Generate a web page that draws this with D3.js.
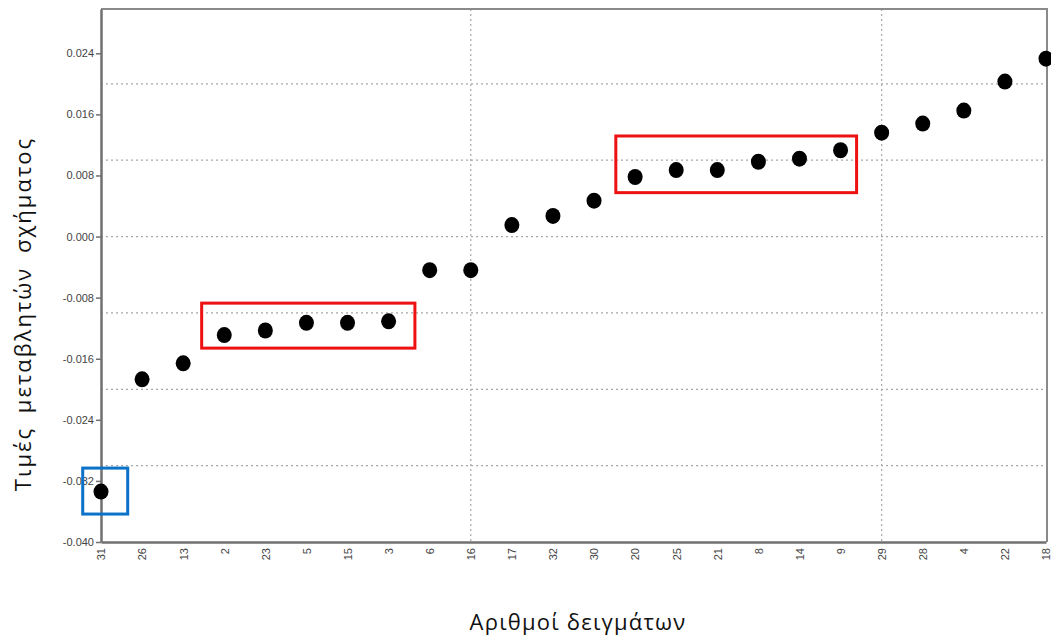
<!DOCTYPE html>
<html>
<head>
<meta charset="utf-8">
<script src="https://cdn.jsdelivr.net/npm/d3@7"></script>
<style>
    body { margin: 0; background: #fff; }
    svg { display: block; }
</style>
</head>
<body>
<svg id="chart" width="1051" height="637"></svg>
<script>
// Sample numbers, in the order they are plotted
let samples = ["31", "26", "13", "2", "23", "5", "15", "3", "6", "16", "17", "32",
               "30", "20", "25", "21", "8", "14", "9", "29", "28", "4", "22", "18"];
// Shape variable value of each sample
let values = [-0.0334, -0.0187, -0.0166, -0.0129, -0.0123, -0.0113, -0.0113, -0.0111,
              -0.0044, -0.0044, 0.0015, 0.0027, 0.0047, 0.0078, 0.0087, 0.0087,
              0.0098, 0.0102, 0.0113, 0.0136, 0.0148, 0.0165, 0.0203, 0.0233];

// y ticks and gridlines
let yTicks = [-0.040, -0.032, -0.024, -0.016, -0.008, 0.000, 0.008, 0.016, 0.024];
let yGrid = [-0.03, -0.02, -0.01, 0.00, 0.01, 0.02];
// vertical gridlines (1-based sample position)
let xGrid = [10, 20];

// highlight boxes in data space: [pos0, pos1, value0, value1]
let redBoxes = [[3.45, 8.64, -0.00872, -0.01461], [13.53, 19.39, 0.01317, 0.00575]];
let blueBoxes = [[0.555, 1.65, -0.03032, -0.03634]];

let yTitle = "Τιμές μεταβλητών σχήματος";
let xTitle = "Αριθμοί δειγμάτων";

// Sizes
let svg = d3.select("#chart");
let margin = {top: 9, right: 4, bottom: 95, left: 101};
let width = 1051 - margin.left - margin.right;
let height = 637 - margin.top - margin.bottom;

let x = d3.scaleLinear().domain([1, samples.length]).range([0, width - 1]);
let y = d3.scaleLinear().domain([-0.040, 0.0298]).range([height, 0]);

let g = svg.append("g").attr("transform", `translate(${margin.left},${margin.top})`);

// dotted gridlines
g.selectAll(".hgrid").data(yGrid).enter().append("line")
    .attr("x1", 0).attr("x2", width)
    .attr("y1", d => y(d)).attr("y2", d => y(d))
    .attr("stroke", "#a8a8a8").attr("stroke-width", 1.2)
    .attr("stroke-dasharray", "2,3");
g.selectAll(".vgrid").data(xGrid).enter().append("line")
    .attr("x1", d => x(d)).attr("x2", d => x(d))
    .attr("y1", 0).attr("y2", height)
    .attr("stroke", "#a8a8a8").attr("stroke-width", 1.2)
    .attr("stroke-dasharray", "2,3");

// frame (top and right)
g.append("path")
    .attr("d", `M0,0H${width}V${height}`)
    .attr("fill", "none").attr("stroke", "#8a8a8a").attr("stroke-width", 2);

// y axis
let yAxis = g.append("g")
    .call(d3.axisLeft(y).tickValues(yTicks).tickFormat(d3.format(".3f")).tickSize(5).tickSizeOuter(0));
yAxis.select(".domain").attr("stroke", "#707070").attr("stroke-width", 2.5);
yAxis.selectAll(".tick line").attr("stroke", "#707070").attr("stroke-width", 1.5);
yAxis.selectAll("text")
    .attr("x", -7)
    .style("font-family", "'Liberation Sans', Arial, sans-serif")
    .style("font-size", "11px")
    .attr("fill", "#444")
    .text(d => d3.format(".3f")(d).replace("−", "-"));

// x axis
let xAxis = g.append("g")
    .attr("transform", `translate(0,${height})`)
    .call(d3.axisBottom(x).tickValues(d3.range(1, samples.length + 1))
        .tickFormat(d => samples[d - 1]).tickSize(0).tickSizeOuter(0));
xAxis.select(".domain").attr("stroke", "#707070").attr("stroke-width", 2.5);
xAxis.selectAll("text")
    .attr("transform", "rotate(-90)")
    .attr("x", -6).attr("y", 0).attr("dy", "0.35em")
    .attr("text-anchor", "end")
    .style("font-family", "'Liberation Sans', Arial, sans-serif")
    .style("font-size", "11px")
    .attr("fill", "#444");

// points
g.selectAll(".dot").data(values).enter().append("ellipse")
    .attr("cx", (d, i) => x(i + 1))
    .attr("cy", d => y(d))
    .attr("rx", 7.5).attr("ry", 8)
    .attr("fill", "#000");

// highlight boxes
g.selectAll(".redbox").data(redBoxes).enter().append("rect")
    .attr("x", d => x(d[0])).attr("y", d => y(d[2]))
    .attr("width", d => x(d[1]) - x(d[0]))
    .attr("height", d => y(d[3]) - y(d[2]))
    .attr("fill", "none").attr("stroke", "#ee1111").attr("stroke-width", 3);
g.selectAll(".bluebox").data(blueBoxes).enter().append("rect")
    .attr("x", d => x(d[0])).attr("y", d => y(d[2]))
    .attr("width", d => x(d[1]) - x(d[0]))
    .attr("height", d => y(d[3]) - y(d[2]))
    .attr("fill", "none").attr("stroke", "#0a72c8").attr("stroke-width", 3);

// axis titles
svg.append("text")
    .attr("transform", "translate(31,314) rotate(-90)")
    .attr("text-anchor", "middle")
    .style("font-family", "'Open Sans', 'Noto Sans', sans-serif")
    .style("font-size", "22px")
    .style("letter-spacing", "2px")
    .style("word-spacing", "6px")
    .attr("fill", "#111")
    .text(yTitle);
svg.append("text")
    .attr("x", 578).attr("y", 630)
    .attr("text-anchor", "middle")
    .style("font-family", "'Open Sans', 'Noto Sans', sans-serif")
    .style("font-size", "22px")
    .style("letter-spacing", "1.2px")
    .attr("fill", "#111")
    .text(xTitle);
</script>
</body>
</html>
